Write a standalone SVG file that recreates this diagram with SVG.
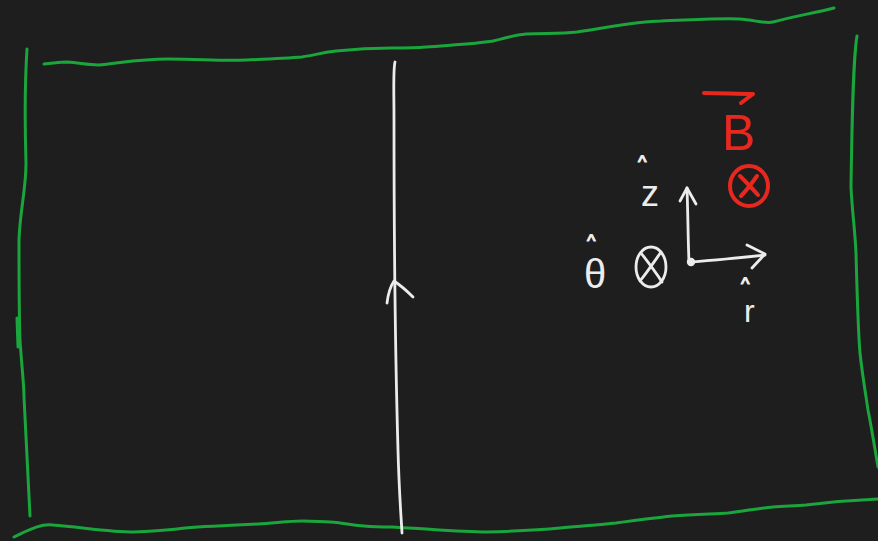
<svg xmlns="http://www.w3.org/2000/svg" width="878" height="541" viewBox="0 0 878 541">
<style>
.g{fill:none;stroke:#1aa63c;stroke-width:3;stroke-linecap:round;stroke-linejoin:round}
.w{fill:none;stroke:#ececec;stroke-width:2.8;stroke-linecap:round;stroke-linejoin:round}
.r{fill:none;stroke:#e8281f;stroke-width:4;stroke-linecap:round;stroke-linejoin:round}
.tw{fill:#ececec;font-family:"Liberation Sans",Arial,sans-serif}
.tr{fill:#e8281f;font-family:"Liberation Sans",Arial,sans-serif}
.hat{fill:#ececec;stroke:#ececec;stroke-width:1.2;stroke-linejoin:round;font-family:"Liberation Sans",Arial,sans-serif;font-size:18px}
</style>
<rect width="878" height="541" fill="#1e1e1e"/>
<g id="frame">
<path class="g" stroke-width="3.6" d="M44,64 C55,63 60,62 67,62 C80,63 88,65 98,65 C120,63 140,59 168,59 C200,59 220,61 246,60 C270,59 290,58 302,57 C315,55 325,52 336,51 C355,49 375,48 392,48 C405,48 415,48 426,47 C450,45 475,44 493,41 C505,38 515,35 526,34 C545,33 560,34 577,32 C610,27 640,21 661,21 C690,20 720,18 739,19 C755,20 765,24 773,22 C795,16 815,13 834,8"/>
<path class="g" d="M27,49 C25,80 25,130 26,163 C26,190 20,210 19,240 C19,280 19,310 20,340 C22,370 24,385 24,397 C26,440 28,480 30,516"/>
<path class="g" d="M17,318 L18,347"/>
<path class="g" d="M857,36 C853,60 852,120 851,187 C852,210 855,230 856,253 C857,290 858,330 860,353 C862,372 865,390 868,410 C872,430 875,450 878,467"/>
<path class="g" d="M14,537 C25,532 40,523 53,525 C80,527 110,532 134,532 C155,531 170,530 185,528 C210,526 235,525 258,524 C275,523 290,521 302,521 C315,521 322,522 330,522 C345,523 355,526 364,526 C375,527 385,527 392,527 C430,529 460,532 487,532 C520,531 540,530 560,528 C580,526 600,525 616,523 C635,520 655,518 672,516 C695,514 715,514 728,513 C745,511 760,508 773,507 C785,506 795,506 806,505 C830,502 855,500 878,499"/>
</g>
<g id="wire">
<path class="w" d="M395,62 C393,70 394,90 394,120 C394,250 396,380 398,450 C399,490 401,515 402,533"/>
<path class="w" d="M387,303 C388,295 390,287 394,281 C400,285 407,291 413,297"/>
</g>
<g id="axes">
<circle cx="691" cy="262" r="4.2" fill="#ececec"/>
<path class="w" d="M689,262 C688,240 688,215 687,188"/>
<path class="w" d="M680,201 L687,188 L696,204"/>
<path class="w" d="M691,262 C715,260 740,258 765,255"/>
<path class="w" d="M747,245 L765,254 L752,268"/>
</g>
<g id="theta-hat">
<text class="hat" x="587" y="247">^</text>
<text class="tw" x="584" y="288" font-size="40">θ</text>
</g>
<g id="into-page">
<ellipse class="w" cx="651" cy="267" rx="15" ry="20"/>
<path class="w" d="M641,253 C648,262 655,271 662,282"/>
<path class="w" d="M661,252 C654,262 648,271 640,281"/>
</g>
<g id="z-hat">
<text class="hat" x="638" y="168">^</text>
<text class="tw" x="641" y="206" font-size="36">z</text>
</g>
<g id="r-hat">
<text class="hat" x="741" y="290" font-size="16">^</text>
<text class="tw" x="744" y="322" font-size="32">r</text>
</g>
<g id="B-field">
<path class="r" d="M704,93 C720,93 738,94 753,94 L741,103"/>
<text class="tr" x="722" y="150" font-size="50">B</text>
<ellipse class="r" cx="749" cy="186" rx="19" ry="20"/>
<path class="r" d="M740,176 C746,182 752,188 758,195"/>
<path class="r" d="M757,176 C752,183 747,190 741,196"/>
</g>
</svg>
